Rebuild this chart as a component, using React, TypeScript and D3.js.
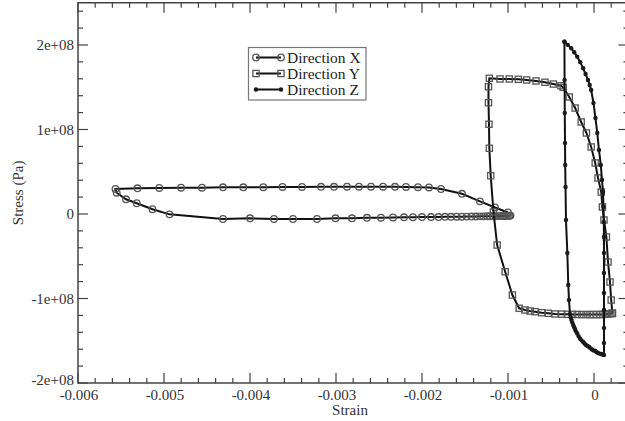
import React from 'react'
import * as d3 from 'd3';

// strain in 1e-3, stress in 1e8 Pa
const STRAIN_UNIT = 1e-3;
const STRESS_UNIT = 1e8;

const seriesNames = ['Direction X', 'Direction Y', 'Direction Z'];

const strainX = [
  -1.000, -1.151, -1.326, -1.535, -1.779, -1.919, -2.047, -2.186, -2.314, -2.453, -2.593, -2.733, -2.872,
  -3.023, -3.174, -3.395, -3.622, -3.845, -4.078, -4.314, -4.558, -4.802, -5.055, -5.308, -5.564,
  -5.550, -5.442, -5.317, -5.134, -4.936, -4.314, -4.000, -3.721, -3.500, -3.221, -3.006, -2.814, -2.640,
  -2.477, -2.337, -2.209, -2.105, -2.000, -1.895, -1.808, -1.733, -1.663, -1.597, -1.538, -1.480, -1.424,
  -1.372, -1.326, -1.285, -1.244, -1.209, -1.174, -1.145, -1.116, -1.090, -1.064, -1.041, -1.020, -1.000,
  -0.983, -0.971,
];
const stressX = [
  0.018, 0.077, 0.150, 0.239, 0.296, 0.314, 0.317, 0.320, 0.322, 0.323, 0.323, 0.323, 0.323,
  0.322, 0.322, 0.320, 0.320, 0.317, 0.316, 0.316, 0.311, 0.311, 0.308, 0.304, 0.296,
  0.252, 0.174, 0.127, 0.056, -0.004, -0.059, -0.051, -0.059, -0.059, -0.059, -0.051, -0.051, -0.045,
  -0.044, -0.041, -0.039, -0.038, -0.036, -0.036, -0.036, -0.033, -0.033, -0.032, -0.032, -0.031, -0.030,
  -0.030, -0.028, -0.028, -0.027, -0.027, -0.026, -0.026, -0.025, -0.025, -0.024, -0.024, -0.023, -0.022,
  -0.021, -0.019,
];

const strainY = [
  0.214, 0.200, 0.186, 0.163, 0.144, 0.116, 0.098, 0.084, 0.047, 0.014, -0.033, -0.088, -0.149, -0.219,
  -0.288, -0.358, -0.384, -0.473, -0.570, -0.674, -0.783, -0.880, -0.985, -1.093, -1.217,
  -1.227, -1.227, -1.221, -1.217, -1.201, -1.169, -1.126, -1.033, -0.949, -0.870, -0.802, -0.744, -0.686,
  -0.608, -0.531, -0.453, -0.376, -0.310, -0.248, -0.194, -0.143, -0.093, -0.047, -0.008, 0.031, 0.070,
  0.101, 0.131, 0.159, 0.186, 0.209, 0.214,
];
const stressY = [
  -1.175, -1.018, -0.805, -0.568, -0.272, -0.071, 0.083, 0.260, 0.426, 0.604, 0.793, 0.959, 1.089, 1.254,
  1.385, 1.499, 1.518, 1.538, 1.559, 1.574, 1.586, 1.594, 1.598, 1.598, 1.606,
  1.506, 1.317, 1.062, 0.778, 0.453, 0.024, -0.367, -0.683, -0.959, -1.116, -1.136, -1.148, -1.156,
  -1.168, -1.175, -1.183, -1.185, -1.187, -1.188, -1.189, -1.190, -1.190, -1.190, -1.190, -1.190, -1.190,
  -1.188, -1.186, -1.183, -1.180, -1.178, -1.175,
];

const strainZ = [
  -0.344, -0.305, -0.265, -0.230, -0.195, -0.160, -0.126, -0.098, -0.070, -0.050, -0.033, -0.006, 0.017,
  0.038, 0.058, 0.079, 0.093, 0.105, 0.110, 0.114, 0.116, 0.116, 0.116, 0.116, 0.116, 0.116, 0.116, 0.116,
  0.100, 0.084, 0.065, 0.047, 0.030, 0.014, -0.005, -0.023, -0.040, -0.056, -0.075, -0.093, -0.110,
  -0.126, -0.145, -0.163, -0.180, -0.195, -0.210, -0.221, -0.232, -0.242, -0.252, -0.262, -0.271, -0.279,
  -0.291, -0.299, -0.310, -0.326, -0.331, -0.335, -0.337, -0.340, -0.342, -0.344,
];
const stressZ = [
  2.039, 2.002, 1.961, 1.915, 1.862, 1.797, 1.724, 1.657, 1.586, 1.527, 1.467, 1.314, 1.136,
  0.959, 0.757, 0.580, 0.402, 0.260, 0.083, -0.095, -0.272, -0.462, -0.698, -0.935, -1.136, -1.349, -1.527, -1.669,
  -1.663, -1.657, -1.652, -1.645, -1.634, -1.621, -1.614, -1.604, -1.590, -1.574, -1.563, -1.550, -1.533,
  -1.515, -1.495, -1.473, -1.445, -1.414, -1.389, -1.361, -1.338, -1.314, -1.285, -1.254, -1.222, -1.183,
  -1.018, -0.840, -0.462, -0.071, 0.320, 0.580, 0.840, 1.195, 1.586, 2.039,
];

const xMajor = [-0.006, -0.005, -0.004, -0.003, -0.002, -0.001, 0];
const yMajor = [-2e8, -1e8, 0, 1e8, 2e8];
const yTickLabels = ['-2e+08', '-1e+08', '0', '1e+08', '2e+08'];

const font = "'Liberation Serif', 'Times New Roman', serif";

function toPoints(sx: number[], sy: number[]) {
  return sx.map((v, i) => [v * STRAIN_UNIT, sy[i] * STRESS_UNIT] as [number, number]);
}

export default function App() {
  const x = d3.scaleLinear().domain([-0.006, 0.0004]).range([78, 628.4]);
  const y = d3.scaleLinear().domain([-2e8, 2.5e8]).range([383, 2.75]);
  const [x0, x1] = x.range();
  const [y0, y1] = y.range();

  const line = d3.line<[number, number]>().x(d => x(d[0])).y(d => y(d[1]));

  const ptsX = toPoints(strainX, stressX);
  const ptsY = toPoints(strainY, stressY);
  const ptsZ = toPoints(strainZ, stressZ);

  const xMinor = d3.range(-0.006, 0.00041, 0.0002).filter(v => !xMajor.some(m => Math.abs(m - v) < 1e-9));
  const yMinor = d3.range(-2e8, 2.5e8 + 1, 2e7).filter(v => !yMajor.some(m => Math.abs(m - v) < 1));

  const circle = (px: number, py: number, k: string) =>
    <circle key={k} cx={px} cy={py} r={3.3} fill="none" stroke="#555" strokeWidth={1.3} />;
  const square = (px: number, py: number, k: string) =>
    <rect key={k} x={px - 3.1} y={py - 3.1} width={6.2} height={6.2} fill="none" stroke="#555" strokeWidth={1.3} />;
  const dot = (px: number, py: number, k: string) =>
    <circle key={k} cx={px} cy={py} r={2.2} fill="#1a1a1a" />;
  const markers = [circle, square, dot];

  const legendRows = [57.5, 73.5, 89.5];

  return (
    <svg width={625} height={421} style={{ position: 'absolute', left: 0, top: 0, background: '#fff' }}
      fontFamily={font}>
      <rect x={0} y={0} width={625} height={421} fill="#fff" />

      {/* data */}
      {[ptsX, ptsY, ptsZ].map((pts, si) => (
        <g key={si}>
          <path d={line(pts) ?? ''} fill="none" stroke="#111" strokeWidth={2} />
          {pts.map((p, i) => markers[si](x(p[0]), y(p[1]), `${si}-${i}`))}
        </g>
      ))}

      {/* frame and ticks */}
      <rect x={x0} y={y1} width={x1 - x0} height={y0 - y1} fill="none" stroke="#444" strokeWidth={1.5} />
      <g stroke="#444" strokeWidth={1.2}>
        {xMajor.map(v => (
          <g key={'xm' + v}>
            <line x1={x(v)} x2={x(v)} y1={y0} y2={y0 - 10} />
            <line x1={x(v)} x2={x(v)} y1={y1} y2={y1 + 10} />
          </g>
        ))}
        {xMinor.map(v => (
          <g key={'xn' + v}>
            <line x1={x(v)} x2={x(v)} y1={y0} y2={y0 - 5} />
            <line x1={x(v)} x2={x(v)} y1={y1} y2={y1 + 5} />
          </g>
        ))}
        {yMajor.map(v => (
          <g key={'ym' + v}>
            <line x1={x0} x2={x0 + 10} y1={y(v)} y2={y(v)} />
            <line x1={x1} x2={x1 - 10} y1={y(v)} y2={y(v)} />
          </g>
        ))}
        {yMinor.map(v => (
          <g key={'yn' + v}>
            <line x1={x0} x2={x0 + 5} y1={y(v)} y2={y(v)} />
            <line x1={x1} x2={x1 - 5} y1={y(v)} y2={y(v)} />
          </g>
        ))}
      </g>

      {/* tick labels */}
      <g fontSize={15} fill="#333">
        {xMajor.map(v => (
          <text key={'xl' + v} x={x(v) + 1} y={400} textAnchor="middle">{v === 0 ? '0' : v.toFixed(3)}</text>
        ))}
        {yMajor.map((v, i) => (
          <text key={'yl' + v} x={x0 - 4} y={y(v) + (i === 0 ? 2 : 5)} textAnchor="end">{yTickLabels[i]}</text>
        ))}
      </g>

      {/* axis titles */}
      <text x={350} y={415} textAnchor="middle" fontSize={15} fill="#333">Strain</text>
      <text transform={`translate(23, ${(y0 + y1) / 2}) rotate(-90)`} textAnchor="middle" fontSize={15}
        fill="#333">Stress (Pa)</text>

      {/* legend */}
      <rect x={248.5} y={47.5} width={117.5} height={52.5} fill="#fff" stroke="#777" strokeWidth={1.2} />
      {seriesNames.map((name, i) => (
        <g key={name}>
          <line x1={256} x2={281} y1={legendRows[i]} y2={legendRows[i]} stroke="#111" strokeWidth={2} />
          {markers[i](256, legendRows[i], 'la' + i)}
          {markers[i](281, legendRows[i], 'lb' + i)}
          <text x={287} y={legendRows[i] + 5} fontSize={15.5} fill="#222">{name}</text>
        </g>
      ))}
    </svg>
  )
}
